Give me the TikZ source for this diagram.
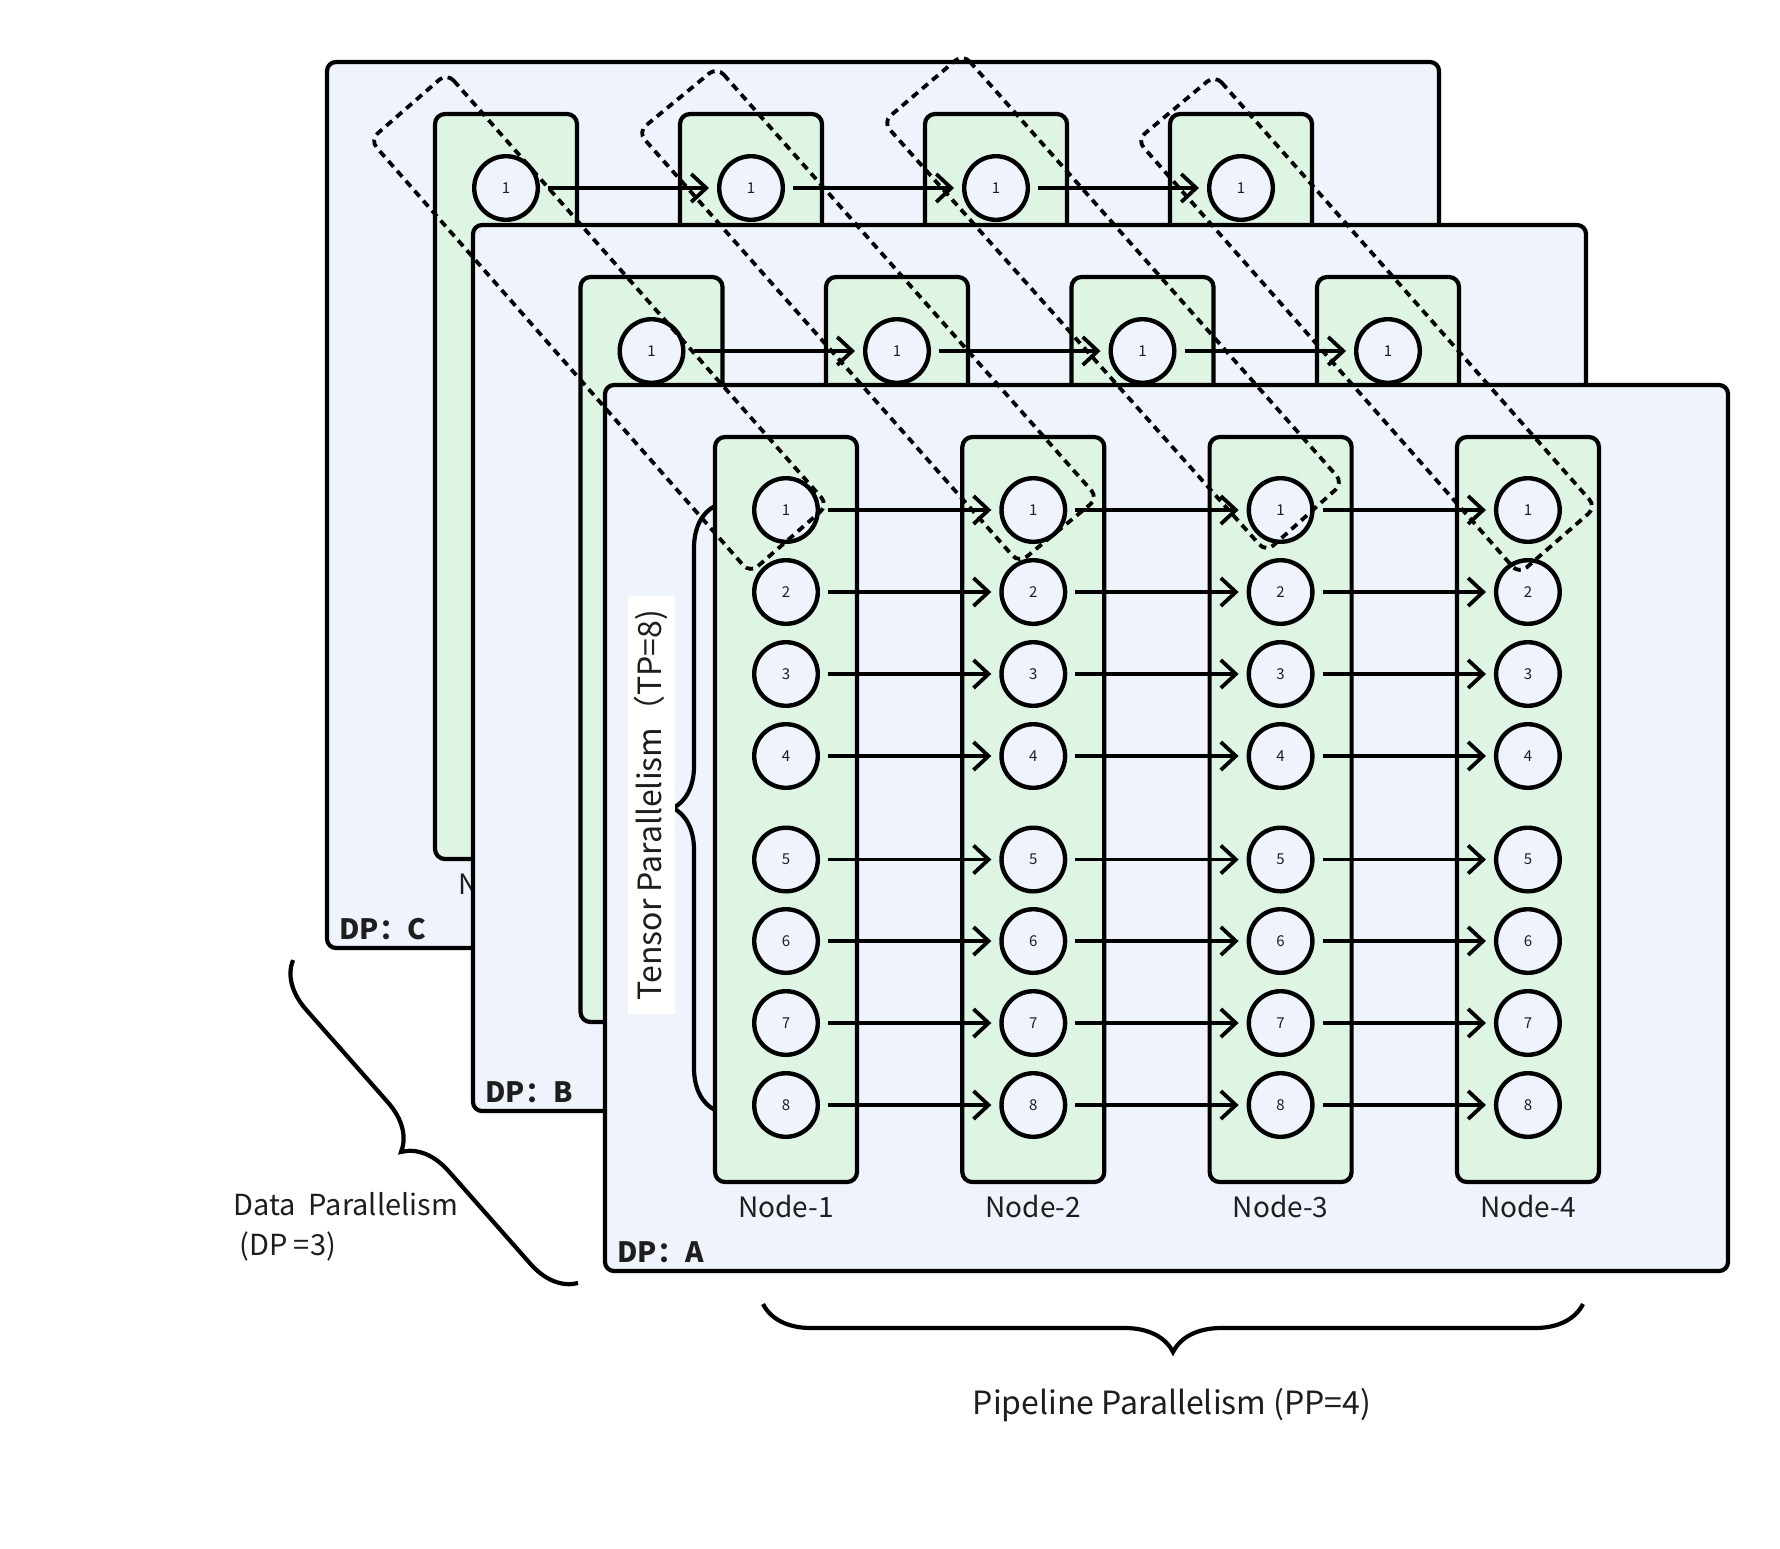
\documentclass[tikz,border=0pt]{standalone}
\usepackage{fontspec}
\setmainfont{Noto Sans CJK SC}
\usetikzlibrary{arrows.meta,decorations.pathreplacing}
\definecolor{panelfill}{RGB}{239,243,252}
\definecolor{nodefill}{RGB}{222,245,228}
\definecolor{ink}{RGB}{30,30,30}
\tikzset{
  panelbox/.style={draw=black, line width=2.1pt, fill=panelfill, rounded corners=4.5pt, outer sep=0pt, inner sep=0pt},
  stagebox/.style={draw=black, line width=2.1pt, fill=nodefill, rounded corners=5pt, outer sep=0pt, inner sep=0pt},
  gpu/.style={circle, draw=black, line width=2.2pt, fill=panelfill, minimum size=31.8pt, inner sep=0pt, text=ink, font=\fontsize{7.5}{8}\selectfont},
  link/.style={line width=1.9pt, -{Straight Barb[length=7.5pt,width=14pt]}, shorten <=4pt, shorten >=4pt},
  tpgroup/.style={draw=black, line width=1.9pt, dash pattern=on 3.8pt off 2.8pt, rounded corners=5pt},
  bigbrace/.style={draw=black, line width=2.1pt, decorate, decoration={brace, amplitude=#1}},
  stagelabel/.style={font=\fontsize{14}{16}\selectfont, text=ink},
  dplabel/.style={font=\bfseries\fontsize{14}{16}\selectfont, anchor=west, text=ink, inner sep=0pt},
}
% #1 id, #2 ox, #3 oy, #4 W, #5 rel x of first circle, #6 spacing, #7 rows, #8 label letter
\newcommand{\dppanel}[8]{%
  \node[panelbox, anchor=north west, minimum width=#4*0.5pt, minimum height=886*0.5pt] (pan#1) at (#2,#3) {};
  \foreach \k in {1,...,4}{
    \pgfmathsetmacro{\cx}{#2+#5+(\k-1)*#6}
    \node[stagebox, anchor=north, minimum width=71pt, minimum height=372.5pt] (box#1\k) at (\cx,#3+52) {};
    \node[stagelabel] (lab#1\k) at (\cx,#3+822) {Node-\k};
  }
  \foreach \r/\dy in {#7}{
    \foreach \k in {1,...,4}{
      \pgfmathsetmacro{\cx}{#2+#5+(\k-1)*#6}
      \node[gpu] (g#1\k\r) at (\cx,#3+\dy) {\r};
    }
    \foreach \k [evaluate=\k as \kk using int(\k+1)] in {1,2,3}{
      \draw[link] (g#1\k\r) -- (g#1\kk\r);
    }
  }
  \node[dplabel] (dp#1) at (#2+12,#3+867) {DP：#8};
}
\begin{document}
\begin{tikzpicture}[x=0.5pt,y=-0.5pt]
\useasboundingbox[fill=white] (0,0) rectangle (1780,1548);
% three data-parallel replicas, back to front
\dppanel{C}{327}{62}{1112}{179}{245}{1/126}{C}
\dppanel{B}{473}{225}{1113}{178.5}{245.5}{1/126}{B}
\dppanel{A}{605}{385}{1123}{181}{247.3}{1/125,2/207,3/289,4/371,5/474.5,6/556,7/638,8/720}{A}
% tensor-parallel groups (dashed)
\draw[tpgroup] (447,73) -- (828,505) -- (750,573) -- (370,140) -- cycle;
\draw[tpgroup] (717,67) -- (1098,498) -- (1019,563) -- (638,132) -- cycle;
\draw[tpgroup] (963,54) -- (1343,483) -- (1266,552) -- (883,122) -- cycle;
\draw[tpgroup] (1215,75) -- (1596,507) -- (1519,574) -- (1137,140) -- cycle;
% braces
\draw[bigbrace=21pt] (715,1110) -- (715,506);
\draw[bigbrace=23pt] (578,1283) -- (293,960);
\draw[bigbrace=24pt] (1583,1304) -- (763,1304);
% labels
\node[rotate=90, fill=white, inner xsep=7pt, minimum height=23pt, text=ink, font=\fontsize{16}{18}\selectfont] (tptext) at (651,805) {Tensor Parallelism（TP=8)};
\node[align=left, anchor=west, text=ink, inner sep=0pt, font=\fontsize{14.5}{20}\selectfont] (dptext) at (233,1227) {Data\ \ Parallelism\\\hspace*{3pt}(DP =3)};
\node[text=ink, font=\fontsize{16}{19}\selectfont] (pptext) at (1172,1405) {Pipeline Parallelism (PP=4)};
\end{tikzpicture}
\end{document}
